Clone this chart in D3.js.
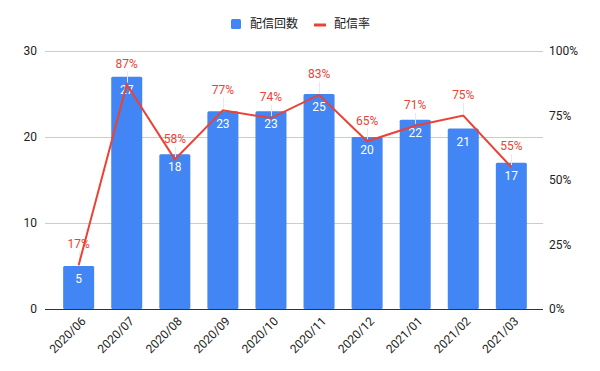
<!DOCTYPE html>
<meta charset="utf-8">
<style>
body { margin: 0; background: #fff; }
text { font-family: Roboto, "Noto Sans CJK JP", sans-serif; }
</style>
<svg width="600" height="371"></svg>
<script src="https://cdnjs.cloudflare.com/ajax/libs/d3/7.8.5/d3.min.js"></script>
<script>
"use strict";

// data
var months = ["2020/06","2020/07","2020/08","2020/09","2020/10","2020/11","2020/12","2021/01","2021/02","2021/03"];
var counts = [5, 27, 18, 23, 23, 25, 20, 22, 21, 17];
var rates = [0.17, 0.87, 0.58, 0.77, 0.74, 0.83, 0.65, 0.71, 0.75, 0.55];
var leftTicks = [0, 10, 20, 30];
var rightTicks = [0, 0.25, 0.5, 0.75, 1];

var svg = d3.select("svg");
var blue = "#4285f4", red = "#ea4335";
var plotLeft = 45, plotRight = 543, plotTop = 51, plotBottom = 309;

var x = d3.scaleBand().domain(months).range([54.5, 535.5]).paddingInner(0.355).paddingOuter(0.18);
var y = d3.scaleLinear().domain([0, 30]).range([plotBottom, plotTop]);
var y2 = d3.scaleLinear().domain([0, 1]).range([plotBottom, plotTop]);
function cx(i) { return x(months[i]) + x.bandwidth() / 2; }

// grid
svg.append("g").selectAll("line").data(leftTicks.slice(1)).enter().append("line")
  .attr("x1", plotLeft).attr("x2", plotRight)
  .attr("y1", function(d) { return y(d) + 0.5; }).attr("y2", function(d) { return y(d) + 0.5; })
  .attr("stroke", "#cccccc").attr("stroke-width", 1);

// left axis labels
svg.append("g").selectAll("text").data(leftTicks).enter().append("text")
  .attr("x", 37).attr("y", function(d) { return y(d); })
  .attr("dy", "0.35em").attr("text-anchor", "end")
  .attr("font-size", 12).attr("fill", "#222").text(function(d) { return d; });

// right axis labels
svg.append("g").selectAll("text").data(rightTicks).enter().append("text")
  .attr("x", 549).attr("y", function(d) { return y2(d); })
  .attr("dy", "0.35em").attr("text-anchor", "start")
  .attr("font-size", 12).attr("fill", "#222").text(function(d) { return Math.round(d * 100) + "%"; });

// bars
svg.append("g").selectAll("rect").data(counts).enter().append("rect")
  .attr("x", function(d, i) { return x(months[i]); })
  .attr("width", x.bandwidth())
  .attr("y", function(d) { return y(d); })
  .attr("height", function(d) { return plotBottom - y(d); })
  .attr("rx", 1.5)
  .attr("fill", blue);

// baseline
svg.append("line").attr("x1", plotLeft).attr("x2", plotRight).attr("y1", plotBottom + 0.5).attr("y2", plotBottom + 0.5)
  .attr("stroke", "#333").attr("stroke-width", 1);

// bar labels
svg.append("g").selectAll("text").data(counts).enter().append("text")
  .attr("x", function(d, i) { return cx(i); })
  .attr("y", function(d) { return y(d) + 13; })
  .attr("dy", "0.35em").attr("text-anchor", "middle")
  .attr("font-size", 12).attr("fill", "#fff").text(function(d) { return d; });

// faint leader lines for the rate labels
svg.append("g").selectAll("line").data(rates).enter().append("line")
  .attr("x1", function(d, i) { return Math.round(cx(i)) + 0.5; })
  .attr("x2", function(d, i) { return Math.round(cx(i)) + 0.5; })
  .attr("y1", function(d) { return y2(d) - 13; })
  .attr("y2", function(d) { return y2(d) - 2; })
  .attr("stroke", "#e8e8e8").attr("stroke-width", 1);

// line
var line = d3.line()
  .x(function(d, i) { return cx(i); })
  .y(function(d) { return y2(d); });

svg.append("path").datum(rates)
  .attr("d", line).attr("fill", "none")
  .attr("stroke", red).attr("stroke-width", 2);

// line labels
svg.append("g").selectAll("text").data(rates).enter().append("text")
  .attr("x", function(d, i) { return cx(i); })
  .attr("y", function(d) { return y2(d) - 21; })
  .attr("dy", "0.35em").attr("text-anchor", "middle")
  .attr("font-size", 12).attr("fill", red).text(function(d) { return Math.round(d * 100) + "%"; });

// x labels
svg.append("g").selectAll("text").data(months).enter().append("text")
  .attr("transform", function(d, i) {
    return "translate(" + (cx(i) + 5) + "," + (plotBottom + 10) + ") rotate(-45)";
  })
  .attr("text-anchor", "end").attr("dy", "0.35em")
  .attr("font-size", 12).attr("fill", "#222").text(function(d) { return d; });

// legend
var lg = svg.append("g");
lg.append("rect").attr("x", 231).attr("y", 19).attr("width", 10).attr("height", 10).attr("rx", 1.5).attr("fill", blue);
lg.append("text").attr("x", 250).attr("y", 24).attr("dy", "0.35em").attr("font-size", 12).attr("fill", "#222").text("配信回数");
lg.append("line").attr("x1", 314).attr("x2", 326).attr("y1", 25).attr("y2", 25).attr("stroke", red).attr("stroke-width", 3);
lg.append("text").attr("x", 334).attr("y", 24).attr("dy", "0.35em").attr("font-size", 12).attr("fill", "#222").text("配信率");
</script>
